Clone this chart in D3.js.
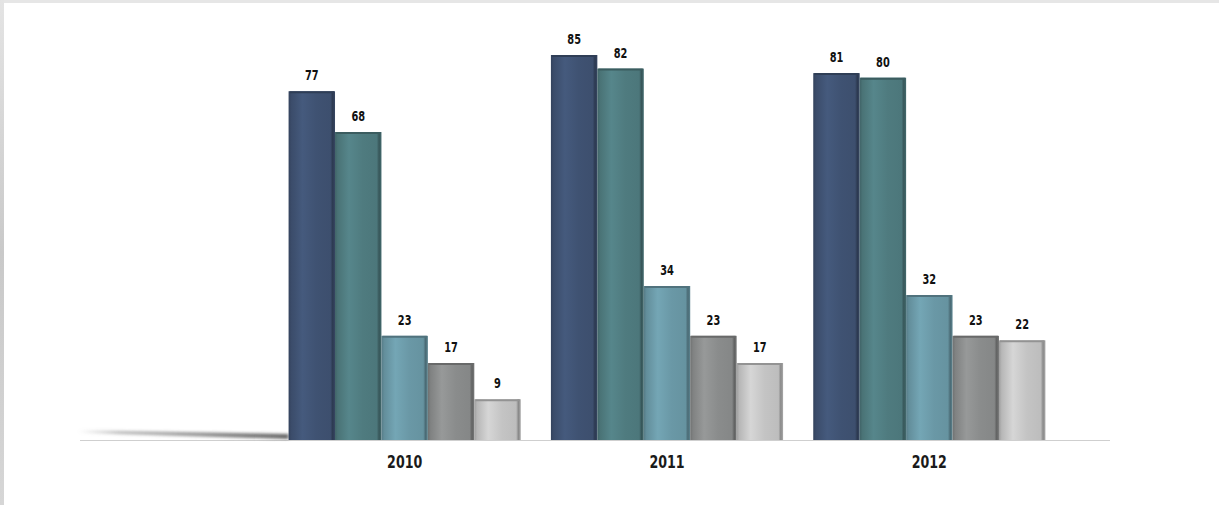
<!DOCTYPE html>
<html>
<head>
<meta charset="utf-8">
<script src="https://cdn.jsdelivr.net/npm/d3@7"></script>
<style>
  html, body { margin: 0; padding: 0; background: #fff; }
  svg { display: block; }
  .val { font-family: "DejaVu Sans Condensed", "DejaVu Sans", sans-serif; font-stretch: condensed; font-weight: bold; font-size: 14px; fill: #111; }
  .year { font-family: "DejaVu Sans Condensed", "DejaVu Sans", sans-serif; font-stretch: condensed; font-weight: bold; font-size: 18px; fill: #1a1a1a; }
</style>
</head>
<body>
<script>
// ---- data ----
const years = ["2010", "2011", "2012"];
const seriesNames = ["Series 1", "Series 2", "Series 3", "Series 4", "Series 5"];
const values2010 = [77, 68, 23, 17, 9];
const values2011 = [85, 82, 34, 23, 17];
const values2012 = [81, 80, 32, 23, 22];
const valuesByYear = [values2010, values2011, values2012];

// ---- styles ----
const seriesColors = ["#3f5272", "#4f7b7f", "#6a98a6", "#8a8c8c", "#c4c4c4"];

const W = 1219, H = 505;
const svg = d3.select("body").append("svg").attr("width", W).attr("height", H);

// frame
svg.append("rect").attr("x", 0).attr("y", 0).attr("width", W).attr("height", H).attr("fill", "#ffffff");
const defs = svg.append("defs");
const lg = defs.append("linearGradient").attr("id", "leftStrip").attr("x1", 0).attr("y1", 0).attr("x2", 0).attr("y2", 1);
lg.append("stop").attr("offset", 0).attr("stop-color", "#e4e4e4");
lg.append("stop").attr("offset", 0.5).attr("stop-color", "#c9c9c9");
lg.append("stop").attr("offset", 1).attr("stop-color", "#d6d6d6");
svg.append("rect").attr("x", 0).attr("y", 0).attr("width", W).attr("height", 3).attr("fill", "#e6e6e6");
svg.append("rect").attr("x", 0).attr("y", 0).attr("width", 4).attr("height", H).attr("fill", "url(#leftStrip)");

// scales
const x0 = d3.scaleBand().domain(years).range([273.5, 1060.5]).paddingInner(0.115).paddingOuter(0.0575);
const x1 = d3.scaleBand().domain(d3.range(seriesNames.length)).range([0, x0.bandwidth()]).padding(0);
const y = d3.scaleLinear().domain([0, 85]).range([440, 55]);
const baseY = y(0);

// floor line and shadow
const sh = defs.append("linearGradient").attr("id", "shadow").attr("x1", 0).attr("y1", 0).attr("x2", 1).attr("y2", 0);
sh.append("stop").attr("offset", 0).attr("stop-color", "#999").attr("stop-opacity", 0);
sh.append("stop").attr("offset", 0.2).attr("stop-color", "#888").attr("stop-opacity", 0.55);
sh.append("stop").attr("offset", 0.7).attr("stop-color", "#666").attr("stop-opacity", 0.8);
sh.append("stop").attr("offset", 1).attr("stop-color", "#555").attr("stop-opacity", 0.9);
const blur = defs.append("filter").attr("id", "blur").attr("x", "-5%").attr("y", "-200%").attr("width", "110%").attr("height", "500%");
blur.append("feGaussianBlur").attr("stdDeviation", "1.4");
svg.append("line").attr("x1", 80).attr("x2", 1110).attr("y1", baseY + 0.5).attr("y2", baseY + 0.5)
  .attr("stroke", "#cfcfcf").attr("stroke-width", 1);
const x2010 = x0("2010");
svg.append("path")
  .attr("d", `M78,${baseY - 10} L${x2010},${baseY - 6} L${x2010},${baseY - 1} L78,${baseY - 7} Z`)
  .attr("fill", "url(#shadow)")
  .attr("filter", "url(#blur)");

// bar gradients
seriesColors.forEach((c, i) => {
  const base = d3.color(c);
  const g = defs.append("linearGradient").attr("id", "bar" + i).attr("x1", 0).attr("y1", 0).attr("x2", 1).attr("y2", 0);
  g.append("stop").attr("offset", 0).attr("stop-color", base.darker(0.6));
  g.append("stop").attr("offset", 0.06).attr("stop-color", base.darker(0.2));
  g.append("stop").attr("offset", 0.3).attr("stop-color", base.brighter(0.25));
  g.append("stop").attr("offset", 0.6).attr("stop-color", base);
  g.append("stop").attr("offset", 0.9).attr("stop-color", base.darker(0.1));
  g.append("stop").attr("offset", 0.95).attr("stop-color", base.darker(1.0));
  g.append("stop").attr("offset", 1).attr("stop-color", base.darker(0.4));
});

const groups = svg.selectAll("g.grp").data(years).join("g")
  .attr("class", "grp")
  .attr("transform", d => `translate(${x0(d)},0)`);

const squeeze = 0.78;

groups.each(function (yr, yi) {
  const g = d3.select(this);
  const vals = valuesByYear[yi];
  g.selectAll("rect.bar").data(vals).join("rect")
    .attr("class", "bar")
    .attr("x", (d, i) => x1(i))
    .attr("y", d => y(d))
    .attr("width", x1.bandwidth())
    .attr("height", d => baseY - y(d))
    .attr("fill", (d, i) => `url(#bar${i})`);
  // top edge
  g.selectAll("line.top").data(vals).join("line")
    .attr("class", "top")
    .attr("x1", (d, i) => x1(i) + 1).attr("x2", (d, i) => x1(i) + x1.bandwidth() - 1)
    .attr("y1", d => y(d) + 1).attr("y2", d => y(d) + 1)
    .attr("stroke", (d, i) => d3.color(seriesColors[i]).darker(0.8))
    .attr("stroke-width", 2);
  g.selectAll("text.val").data(vals).join("text")
    .attr("class", "val")
    .attr("transform", (d, i) => `translate(${x1(i) + x1.bandwidth() / 2},${y(d) - 11}) scale(${squeeze},1)`)
    .attr("text-anchor", "middle")
    .text(d => d);
});

// x labels
svg.selectAll("text.year").data(years).join("text")
  .attr("class", "year")
  .attr("transform", d => `translate(${x0(d) + x0.bandwidth() / 2},468) scale(${squeeze},1)`)
  .attr("text-anchor", "middle")
  .text(d => d);
</script>
</body>
</html>
